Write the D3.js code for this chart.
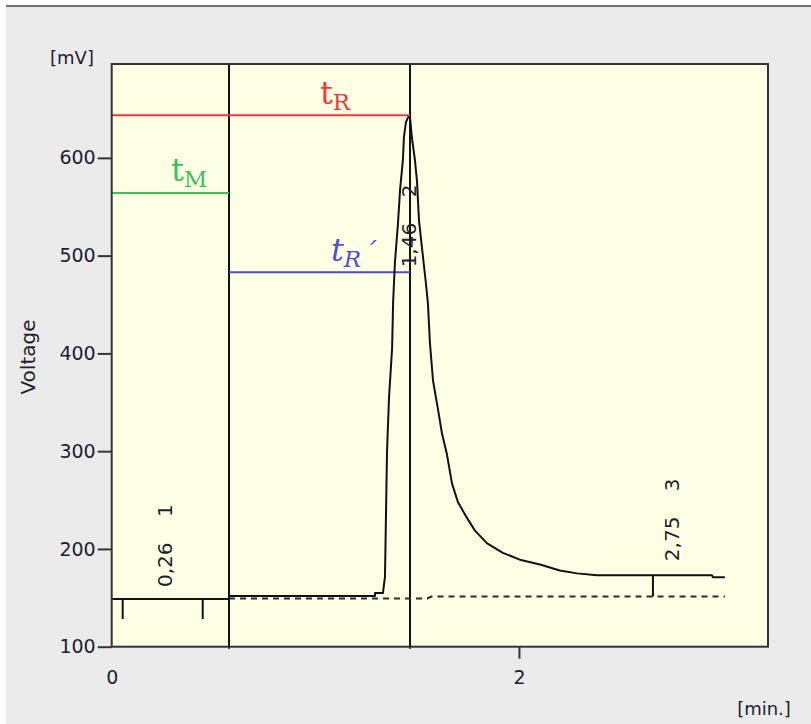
<!DOCTYPE html>
<html>
<head>
<meta charset="utf-8">
<script src="https://cdn.jsdelivr.net/npm/d3@7"></script>
<style>
  html, body { margin: 0; padding: 0; background: #fff; }
  svg { display: block; }
  .tick text { font-family: "DejaVu Sans", sans-serif; font-size: 19px; fill: #1e1e2e; }
</style>
</head>
<body>
<svg id="chart" width="811" height="724"></svg>
<script>
// Chromatogram trace, time in min, signal in mV
var traceTime = [0, 0.576, 0.576, 1.293, 1.293, 1.332, 1.342, 1.352, 1.362, 1.377,
  1.382, 1.391, 1.406, 1.416, 1.430, 1.435, 1.445, 1.455, 1.465, 1.474, 1.489,
  1.499, 1.509, 1.529, 1.543, 1.553, 1.563, 1.578, 1.603, 1.622, 1.646, 1.671,
  1.700, 1.744, 1.783, 1.842, 1.921, 2.004, 2.103, 2.201, 2.285, 2.383, 2.658,
  2.948, 2.953, 3.011];
var traceMv = [148.8, 148.8, 151.8, 151.8, 154.9, 154.9, 171.3, 299.1, 355.3, 405.4,
  452.4, 493.3, 533.2, 566.9, 597.6, 621.1, 636.4, 641.5, 641.5, 621.1, 598.0,
  577.0, 536.0, 498.0, 472.0, 451.0, 410.0, 372.0, 342.0, 318.0, 297.0, 267.0,
  248.0, 232.0, 219.0, 206.0, 196.0, 189.0, 184.0, 178.0, 175.0, 173.0, 173.0,
  173.0, 171.0, 171.0];

// dashed baseline under peaks 2 and 3
var baseTime = [0.576, 1.55, 1.57, 3.011];
var baseMv = [149.3, 149.3, 151.3, 151.3];

// peak table
var peakTimes = [0.26, 1.46, 2.75];
var peakNames = ['0,26', '1,46', '2,75'];
var peakIds = ['1', '2', '3'];
var peakLabelMv = [161, 488, 187.5];

// peak 1 start / end marks
var peak1Marks = [0.054, 0.447];
var peak1MarkMv = [148.8, 128.3];
// peak 3 drop line
var peak3Mark = 2.658;
var peak3MarkMv = [173.0, 151.3];

// retention markers
var deadTime = 0.576;   // tM
var retTime = 1.465;    // tR
var tRLevel = 643.6;
var tMLevel = 564;
var tRPrimeLevel = 483;

var yTicks = [100, 200, 300, 400, 500, 600];
var xTicks = [0, 2];

/**
 * Draws the chromatogram with its retention-time annotations.
 */
function drawChart() {
  var svg = d3.select('#chart');
  var pLeft = 111.7, pTop = 64, pRight = 768, pBottom = 646.7;

  var x = d3.scaleLinear().domain([0, 3.223]).range([pLeft, pRight]);
  var y = d3.scaleLinear().domain([100, 696]).range([pBottom, pTop]);

  // window background
  svg.append('rect')
    .attr('x', 6).attr('y', 5).attr('width', 805).attr('height', 719)
    .attr('fill', '#ebebeb');
  svg.append('line')
    .attr('x1', 6).attr('x2', 811).attr('y1', 6).attr('y2', 6)
    .attr('stroke', '#707070').attr('stroke-width', 2);

  // plot area
  svg.append('rect')
    .attr('x', pLeft).attr('y', pTop)
    .attr('width', pRight - pLeft).attr('height', pBottom - pTop)
    .attr('fill', '#ffffe6');

  // axes
  var yAxis = svg.append('g')
    .attr('transform', 'translate(' + pLeft + ',0)')
    .call(d3.axisLeft(y).tickValues(yTicks).tickSize(14).tickPadding(2)
      .tickFormat(d3.format('d')));
  yAxis.select('.domain').remove();
  yAxis.selectAll('.tick line').attr('stroke', '#333').attr('stroke-width', 2);

  var xAxis = svg.append('g')
    .attr('transform', 'translate(0,' + pBottom + ')')
    .call(d3.axisBottom(x).tickValues(xTicks).tickSize(12).tickPadding(12)
      .tickFormat(d3.format('d')));
  xAxis.select('.domain').remove();
  xAxis.selectAll('.tick line')
    .attr('stroke', '#333').attr('stroke-width', 2)
    .attr('display', function(d) { return d === 0 ? 'none' : null; });

  // axis titles
  svg.append('text')
    .attr('x', 72).attr('y', 64)
    .attr('text-anchor', 'middle')
    .style('font-family', '"DejaVu Sans", sans-serif').style('font-size', '18px')
    .attr('fill', '#1e1e2e')
    .text('[mV]');
  svg.append('text')
    .attr('x', 764).attr('y', 715)
    .attr('text-anchor', 'middle')
    .style('font-family', '"DejaVu Sans", sans-serif').style('font-size', '18px')
    .attr('fill', '#1e1e2e')
    .text('[min.]');
  svg.append('text')
    .attr('transform', 'translate(35,357) rotate(-90)')
    .attr('text-anchor', 'middle')
    .style('font-family', '"DejaVu Sans", sans-serif').style('font-size', '20px')
    .attr('fill', '#1e1e2e')
    .text('Voltage');

  // vertical retention lines
  svg.selectAll('line.vmark')
    .data([deadTime, retTime])
    .enter()
    .append('line')
    .attr('class', 'vmark')
    .attr('x1', function(d) { return x(d); })
    .attr('x2', function(d) { return x(d); })
    .attr('y1', pTop).attr('y2', pBottom + 2)
    .attr('stroke', '#111').attr('stroke-width', 2);

  // horizontal time markers
  var hMarks = [
    {x0: 0, x1: retTime, v: tRLevel, color: '#f03a3a'},
    {x0: 0, x1: deadTime, v: tMLevel, color: '#3cbf55'},
    {x0: deadTime, x1: retTime, v: tRPrimeLevel, color: '#4a4ad6'}
  ];
  svg.selectAll('line.hmark')
    .data(hMarks)
    .enter()
    .append('line')
    .attr('class', 'hmark')
    .attr('x1', function(d) { return x(d.x0); })
    .attr('x2', function(d) { return x(d.x1); })
    .attr('y1', function(d) { return y(d.v); })
    .attr('y2', function(d) { return y(d.v); })
    .attr('stroke', function(d) { return d.color; })
    .attr('stroke-width', 2);

  // marker labels
  function markLabel(px, py, sub, color, italic, accent) {
    var t = svg.append('text')
      .attr('x', px).attr('y', py)
      .style('font-family', '"DejaVu Serif", serif')
      .style('font-size', '32px')
      .style('font-style', italic ? 'italic' : 'normal')
      .attr('fill', color);
    t.append('tspan').text('t');
    t.append('tspan')
      .attr('dy', 6)
      .style('font-size', '23px')
      .text(sub);
    if (accent) {
      t.append('tspan')
        .attr('dy', -6)
        .attr('dx', 2)
        .style('font-size', '26px')
        .text('\u00b4');
    }
  }
  markLabel(320, 104, 'R', '#f03a3a', false, false);
  markLabel(171, 181, 'M', '#3cbf55', false, false);
  markLabel(331, 261, 'R', '#5050d8', true, true);

  // dashed baseline
  var line = d3.line()
    .x(function(d) { return x(d[0]); })
    .y(function(d) { return y(d[1]); });

  svg.append('path')
    .datum(d3.zip(baseTime, baseMv))
    .attr('d', line)
    .attr('fill', 'none')
    .attr('stroke', '#2a2a2a')
    .attr('stroke-width', 2)
    .attr('stroke-dasharray', '6,5');

  // trace
  svg.append('path')
    .datum(d3.zip(traceTime, traceMv))
    .attr('d', line)
    .attr('fill', 'none')
    .attr('stroke', '#111')
    .attr('stroke-width', 2)
    .attr('stroke-linejoin', 'round');

  // peak marks
  svg.selectAll('line.p1')
    .data(peak1Marks)
    .enter()
    .append('line')
    .attr('class', 'p1')
    .attr('x1', function(d) { return x(d); })
    .attr('x2', function(d) { return x(d); })
    .attr('y1', y(peak1MarkMv[0])).attr('y2', y(peak1MarkMv[1]))
    .attr('stroke', '#111').attr('stroke-width', 2);
  svg.append('line')
    .attr('x1', x(peak3Mark)).attr('x2', x(peak3Mark))
    .attr('y1', y(peak3MarkMv[0])).attr('y2', y(peak3MarkMv[1]))
    .attr('stroke', '#111').attr('stroke-width', 2);

  // peak labels, rotated
  peakTimes.forEach(function(t, i) {
    var g = svg.append('g')
      .attr('transform',
        'translate(' + x(t) + ',' + y(peakLabelMv[i]) + ') rotate(-90)');
    g.append('text')
      .attr('x', 0).attr('dy', '0.35em')
      .style('font-family', '"DejaVu Sans", sans-serif').style('font-size', '20px')
      .attr('fill', '#1e1e2e')
      .text(peakNames[i]);
    g.append('text')
      .attr('x', 70).attr('dy', '0.35em')
      .style('font-family', '"DejaVu Sans", sans-serif').style('font-size', '20px')
      .attr('fill', '#1e1e2e')
      .text(peakIds[i]);
  });

  // plot border
  svg.append('rect')
    .attr('x', pLeft).attr('y', pTop)
    .attr('width', pRight - pLeft).attr('height', pBottom - pTop)
    .attr('fill', 'none')
    .attr('stroke', '#333').attr('stroke-width', 2);
}

drawChart();
</script>
</body>
</html>
